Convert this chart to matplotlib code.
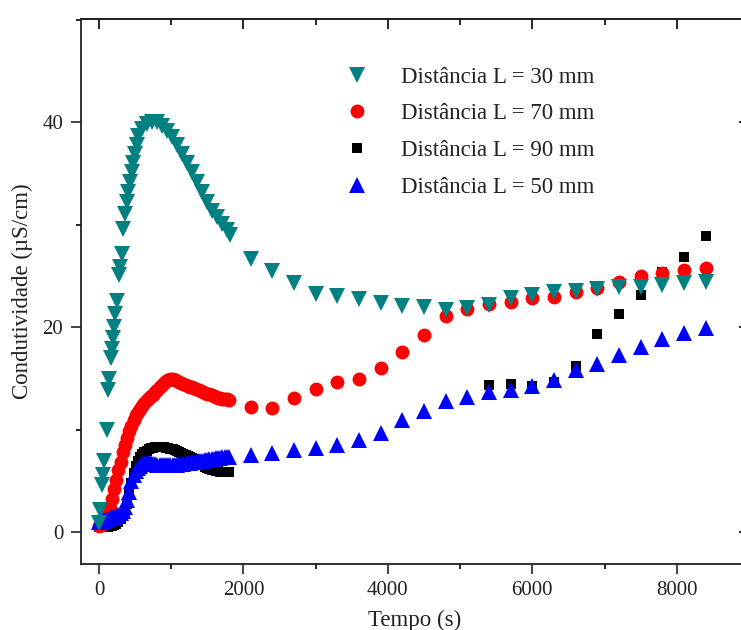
import matplotlib
matplotlib.use('Agg')
import matplotlib.pyplot as plt
from matplotlib.ticker import MultipleLocator

plt.rcParams['font.family'] = ['Liberation Serif', 'DejaVu Serif']

# Distancia L = 30 mm (teal, down triangles)
t30 = [0, 14, 37, 51, 74, 106, 120, 138, 162, 175, 189, 208, 221, 250, 281, 290,
       314, 337, 360, 383, 406, 429, 452, 475, 498, 522, 544, 591, 660, 729, 799,
       868, 937, 1006, 1075, 1144, 1214, 1283, 1352, 1421, 1490, 1560, 1629, 1698,
       1767, 1813,
       2100, 2400, 2700, 3000, 3300, 3600, 3900, 4200, 4500, 4800, 5100, 5400,
       5700, 6000, 6300, 6600, 6900, 7200, 7500, 7800, 8100, 8400]
c30 = [0.9, 2.2, 4.6, 5.6, 7.0, 10.0, 13.9, 15.0, 17.0, 17.9, 19.0, 20.0, 21.3, 22.6,
       25.1, 25.9, 27.2, 29.6, 31.1, 32.2, 33.2, 34.2, 35.2, 36.0, 36.9, 37.8, 38.7,
       39.4, 39.8, 40.0, 40.0, 39.7, 39.2, 38.6, 37.8, 36.9, 36.0, 35.2, 34.2, 33.2,
       32.2, 31.4, 30.8, 30.1, 29.5, 29.0,
       26.7, 25.5, 24.3, 23.3, 23.1, 22.8, 22.4, 22.1, 21.95, 21.7, 21.85, 22.2,
       22.9, 23.2, 23.4, 23.5, 23.7, 23.9, 23.9, 24.1, 24.3, 24.45]

# sampling times: every 30 s for the first 1800 s, then every 300 s
t_dense = [0, 30, 60, 90, 120, 150, 180, 210, 240, 270, 300, 330, 360, 390, 420,
           450, 480, 510, 540, 570, 600, 630, 660, 690, 720, 750, 780, 810, 840,
           870, 900, 930, 960, 990, 1020, 1050, 1080, 1110, 1140, 1170, 1200, 1230,
           1260, 1290, 1320, 1350, 1380, 1410, 1440, 1470, 1500, 1530, 1560, 1590,
           1620, 1650, 1680, 1710, 1740, 1770, 1800]
t_sparse = [2100, 2400, 2700, 3000, 3300, 3600, 3900, 4200, 4500, 4800, 5100, 5400,
            5700, 6000, 6300, 6600, 6900, 7200, 7500, 7800, 8100, 8400]

# Distancia L = 70 mm (red circles)
c70_dense = [0.6, 0.7, 0.85, 1.2, 1.7, 2.4, 3.2, 4.2, 5.1, 6.1, 6.9, 7.8, 8.5, 9.2,
             9.9, 10.4, 11.0, 11.4, 11.7, 12.05, 12.3, 12.6, 12.9, 13.1, 13.25, 13.4,
             13.65, 13.9, 14.2, 14.4, 14.6, 14.8, 14.9, 14.95, 14.95, 14.9, 14.8,
             14.7, 14.6, 14.5, 14.4, 14.3, 14.2, 14.15, 14.1, 14.0, 13.9, 13.8, 13.7,
             13.6, 13.5, 13.45, 13.35, 13.3, 13.2, 13.15, 13.1, 13.05, 13.0, 13.0,
             12.95]
c70_sparse = [12.2, 12.1, 13.1, 14.0, 14.7, 15.0, 16.0, 17.6, 19.25, 21.1, 21.8,
              22.25, 22.5, 22.9, 23.0, 23.4, 23.8, 24.4, 25.0, 25.3, 25.6, 25.8]

# Distancia L = 90 mm (black squares)
c90_dense = [0.5, 0.5, 0.5, 0.5, 0.5, 0.6, 0.65, 0.7, 0.8, 1.0, 1.3, 1.6, 2.1, 2.8,
             3.8, 4.8, 5.8, 6.5, 7.0, 7.35, 7.6, 7.8, 7.95, 8.1, 8.2, 8.25, 8.3, 8.3,
             8.3, 8.3, 8.3, 8.25, 8.2, 8.15, 8.1, 8.0, 7.9, 7.85, 7.75, 7.65, 7.55,
             7.45, 7.35, 7.25, 7.1, 6.95, 6.8, 6.7, 6.55, 6.4, 6.3, 6.2, 6.1, 6.05,
             6.0, 5.95, 5.9, 5.9, 5.9, 5.9, 5.9]
t90_sparse = [5400, 5700, 6000, 6300, 6600, 6900, 7200, 7500, 7800, 8100, 8400]
c90_sparse = [14.4, 14.5, 14.3, 14.7, 16.2, 19.3, 21.3, 23.2, 25.4, 26.9, 28.9]

# Distancia L = 50 mm (blue up triangles)
c50_dense = [1.0, 1.05, 1.1, 1.2, 1.3, 1.4, 1.45, 1.5, 1.6, 1.7, 1.9, 2.1, 2.5, 3.1,
             3.9, 5.0, 5.6, 6.0, 6.3, 6.5, 6.7, 6.75, 6.8, 6.8, 6.75, 6.7, 6.65, 6.6,
             6.6, 6.6, 6.6, 6.6, 6.6, 6.6, 6.6, 6.6, 6.6, 6.65, 6.7, 6.7, 6.75, 6.8,
             6.8, 6.85, 6.9, 6.9, 6.95, 7.0, 7.0, 7.05, 7.05, 7.1, 7.1, 7.15, 7.2,
             7.2, 7.25, 7.3, 7.3, 7.35, 7.35]
c50_sparse = [7.5, 7.7, 8.0, 8.2, 8.55, 8.97, 9.7, 11.0, 11.8, 12.8, 13.2, 13.7, 13.9,
              14.3, 14.9, 15.8, 16.45, 17.3, 18.1, 18.9, 19.4, 19.9]

fig = plt.figure(figsize=(7.41, 6.30), dpi=100)
ax = fig.add_axes([0.1089, 0.1048, 0.9019, 0.8651])

h90, = ax.plot(t_dense + t90_sparse, c90_dense + c90_sparse, 's', color='black',
               ms=7.8, mew=0, label='Distância L = 90 mm')
h70, = ax.plot(t_dense + t_sparse, c70_dense + c70_sparse, 'o', color='#ff0000',
               ms=10, mew=0, label='Distância L = 70 mm')
h50, = ax.plot(t_dense + t_sparse, c50_dense + c50_sparse, '^', color='#0000ff',
               ms=11, mew=0, label='Distância L = 50 mm')
h30, = ax.plot(t30, c30, 'v', color='#008080', ms=11, mew=0,
               label='Distância L = 30 mm')

ax.set_xlim(-253, 9000)
ax.set_ylim(-3.1, 50.1)
ax.xaxis.set_major_locator(MultipleLocator(2000))
ax.xaxis.set_minor_locator(MultipleLocator(1000))
ax.yaxis.set_major_locator(MultipleLocator(20))
ax.yaxis.set_minor_locator(MultipleLocator(10))
ax.tick_params(which='major', direction='out', length=7, width=1.2, labelsize=15,
               pad=5.5, colors='#222222')
ax.tick_params(which='minor', direction='out', length=3.6, width=1.2)

# inward ticks on the top and right sides
top = ax.secondary_xaxis('top')
top.xaxis.set_major_locator(MultipleLocator(2000))
top.xaxis.set_minor_locator(MultipleLocator(1000))
top.tick_params(which='major', direction='in', length=7, width=1.2, labeltop=False)
top.tick_params(which='minor', direction='in', length=4, width=1.2)
right = ax.secondary_yaxis('right')
right.yaxis.set_major_locator(MultipleLocator(20))
right.yaxis.set_minor_locator(MultipleLocator(10))
right.tick_params(which='major', direction='in', length=7, width=1.2, labelright=False)
right.tick_params(which='minor', direction='in', length=4, width=1.2)
for a in (ax, top, right):
    for s in a.spines.values():
        s.set_linewidth(1.3)
        s.set_color('#222222')

ax.set_xlabel('Tempo (s)', fontsize=16.5, labelpad=7, color='#222222')
ax.set_ylabel('Condutividade (µS/cm)', fontsize=16.5, labelpad=7, color='#222222')

ax.legend(handles=[h30, h70, h90, h50], loc='upper left',
          bbox_to_anchor=(0.466, 0.894), bbox_transform=fig.transFigure,
          frameon=False, fontsize=16.5, handlelength=1.0, handletextpad=1.45,
          borderpad=0, borderaxespad=0, labelspacing=0.68, labelcolor='#222222')

fig.savefig('out.png', dpi=100)
